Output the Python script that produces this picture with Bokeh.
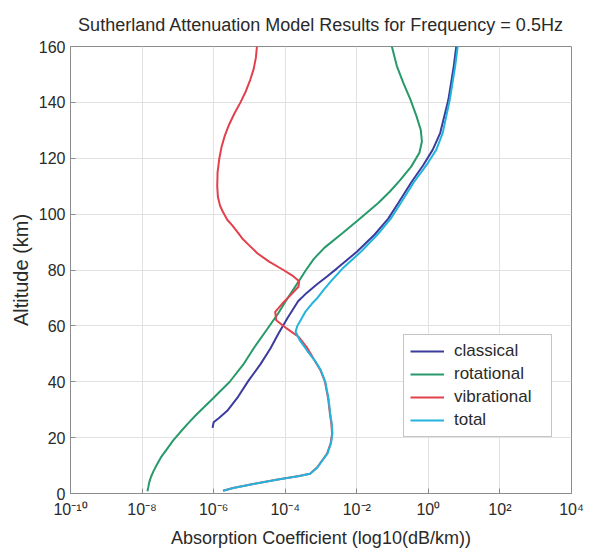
from bokeh.plotting import figure
from bokeh.models import FixedTicker, Legend, LegendItem
from bokeh.embed import file_html
from bokeh.resources import INLINE

# Absorption coefficient profiles, stored as log10(dB/km) against altitude (km)
classical_alt = [23.5, 25.5, 27.0, 29.6, 34.2, 40.3, 46.3, 52.0, 57.0, 62.7, 68.8, 71.8, 74.8,
                 77.6, 80.5, 86.6, 92.7, 98.4, 104.0, 111.5, 117.6, 123.0, 129.0, 141.0, 153.0, 160.0]
classical_log = [-6.03, -6.00, -5.85, -5.62, -5.34, -5.03, -4.69, -4.41, -4.20, -3.94, -3.64, -3.40, -3.12,
                 -2.84, -2.56, -1.99, -1.50, -1.12, -0.84, -0.47, -0.14, 0.12, 0.33, 0.56, 0.71, 0.78]

rotational_alt = [0.8, 2, 4, 6, 8, 10, 13, 16, 19, 22, 25, 28, 34, 40, 46, 52, 58, 64, 70, 76, 80,
                  84, 88, 93, 98, 104, 108, 112, 117, 122, 126, 130, 135, 141, 147, 153, 160]
rotational_log = [-7.85, -7.83, -7.80, -7.75, -7.68, -7.60, -7.47, -7.30, -7.13, -6.93, -6.72, -6.50,
                  -6.02, -5.55, -5.18, -4.88, -4.55, -4.22, -3.93, -3.62, -3.42, -3.20, -2.90, -2.42,
                  -1.95, -1.40, -1.08, -0.80, -0.48, -0.25, -0.18, -0.21, -0.33, -0.50, -0.70, -0.88,
                  -1.02]

vibrational_alt = [1.0, 2.0, 3.5, 5.0, 6.3, 7.1, 9.3, 12.0, 14.3, 18.0, 21.4, 25.0, 28.5, 34.0, 40.0,
                   44.0, 47.0, 52.0, 56.0, 59.0, 62.0, 65.0, 68.0, 71.0, 74.0, 76.0, 78.0, 80.0, 83.0,
                   86.0, 89.0, 91.0, 93.0, 94.0, 96.0, 98.0, 101.0, 103.0, 106.0, 110.0, 115.0, 120.0,
                   124.0, 128.0, 132.0, 136.0, 140.0, 144.0, 148.0, 152.0, 156.0, 160.0]
vibrational_log = [-5.74, -5.46, -4.86, -4.21, -3.61, -3.31, -3.11, -2.96, -2.83, -2.73, -2.69, -2.71,
                   -2.75, -2.80, -2.89, -3.01, -3.15, -3.38, -3.62, -3.95, -4.25, -4.28, -4.08, -3.85,
                   -3.63, -3.61, -3.80, -4.05, -4.45, -4.78, -5.02, -5.18, -5.30, -5.36, -5.48, -5.62,
                   -5.75, -5.82, -5.88, -5.90, -5.89, -5.84, -5.78, -5.69, -5.57, -5.42, -5.25, -5.10,
                   -4.98, -4.88, -4.82, -4.79]

total_alt = [1.0, 2.0, 3.5, 5.0, 6.3, 7.1, 9.3, 12.0, 14.3, 18.0, 21.4, 25.0, 28.5, 34.0, 40.0,
             44.0, 47.0, 51.0, 55.0, 58.0, 60.0, 62.0, 65.0, 68.0, 70.0, 73.0, 76.0, 80.5, 86.6,
             92.7, 98.4, 104.0, 111.5, 117.6, 123.0, 129.0, 141.0, 153.0, 160.0]
total_log = [-5.73, -5.45, -4.85, -4.20, -3.60, -3.30, -3.10, -2.95, -2.82, -2.72, -2.68, -2.70,
             -2.74, -2.79, -2.88, -3.00, -3.14, -3.38, -3.60, -3.71, -3.66, -3.57, -3.44, -3.25,
             -3.10, -2.92, -2.72, -2.40, -1.88, -1.42, -1.05, -0.77, -0.40, -0.05, 0.22, 0.40,
             0.60, 0.75, 0.82]

x_tick_values = [1e-10, 1e-8, 1e-6, 1e-4, 1e-2, 1e0, 1e2, 1e4]
x_tick_labels = ["10⁻¹⁰", "10⁻⁸", "10⁻⁶", "10⁻⁴", "10⁻²", "10⁰", "10²", "10⁴"]
y_tick_values = [0, 20, 40, 60, 80, 100, 120, 140, 160]

FONT = "Liberation Sans"
INK = "#2a2a2a"
FRAME = "#8c8c8c"

p = figure(width=590, height=550, x_axis_type="log",
           x_range=(1e-10, 1e4), y_range=(0, 160),
           output_backend="svg", toolbar_location=None,
           min_border_left=70, min_border_right=19, min_border_top=44, min_border_bottom=57)

p.title.text = "Sutherland Attenuation Model Results for Frequency = 0.5Hz"
p.title.align = "center"
p.title.text_font = FONT
p.title.text_font_size = "18px"
p.title.text_font_style = "normal"
p.title.text_color = INK
p.title.standoff = 24

p.outline_line_color = FRAME
p.outline_line_width = 1

for ax in (p.xaxis[0], p.yaxis[0]):
    ax.axis_line_color = FRAME
    ax.major_tick_line_color = FRAME
    ax.major_tick_in = 5
    ax.major_tick_out = 0
    ax.minor_tick_line_color = None
    ax.major_label_text_font = FONT
    ax.major_label_text_font_size = "16px"
    ax.major_label_text_color = INK
    ax.axis_label_text_font = FONT
    ax.axis_label_text_font_style = "normal"
    ax.axis_label_text_color = INK

p.xaxis.ticker = FixedTicker(ticks=x_tick_values, minor_ticks=[])
p.xaxis.major_label_overrides = dict(zip(x_tick_values, x_tick_labels))
p.xaxis.axis_label = "Absorption Coefficient (log10(dB/km))"
p.xaxis.axis_label_text_font_size = "18px"
p.xaxis.major_label_standoff = 7
p.xaxis.axis_label_standoff = 7

p.yaxis.ticker = FixedTicker(ticks=y_tick_values, minor_ticks=[])
p.yaxis.axis_label = "Altitude (km)"
p.yaxis.axis_label_text_font_size = "20px"
p.yaxis.major_label_standoff = 5
p.yaxis.axis_label_standoff = 4

p.xgrid.grid_line_color = "#e2e2e2"
p.ygrid.grid_line_color = "#e2e2e2"
p.xgrid.ticker = FixedTicker(ticks=x_tick_values)
p.ygrid.ticker = FixedTicker(ticks=y_tick_values)


def coeff(logs):
    return [10.0 ** v for v in logs]


lw = 2
r_cls = p.line(coeff(classical_log), classical_alt, line_color="#3b3c9c", line_width=lw)
r_rot = p.line(coeff(rotational_log), rotational_alt, line_color="#27996a", line_width=lw)
r_vib = p.line(coeff(vibrational_log), vibrational_alt, line_color="#e2404c", line_width=lw)
r_tot = p.line(coeff(total_log), total_alt, line_color="#22b4dc", line_width=lw)

legend = Legend(items=[LegendItem(label="classical", renderers=[r_cls]),
                       LegendItem(label="rotational", renderers=[r_rot]),
                       LegendItem(label="vibrational", renderers=[r_vib]),
                       LegendItem(label="total", renderers=[r_tot])],
                location=(333, 56))
legend.label_text_font = FONT
legend.label_text_font_size = "17px"
legend.label_text_color = INK
legend.glyph_width = 34
legend.glyph_height = 16
legend.label_height = 16
legend.label_width = 91
legend.label_standoff = 10
legend.spacing = 3
legend.padding = 6
legend.margin = 0
legend.border_line_color = FRAME
legend.border_line_width = 1
legend.background_fill_color = "white"
legend.background_fill_alpha = 1.0
p.add_layout(legend, "center")

open("out.html", "w").write(file_html(p, INLINE))
